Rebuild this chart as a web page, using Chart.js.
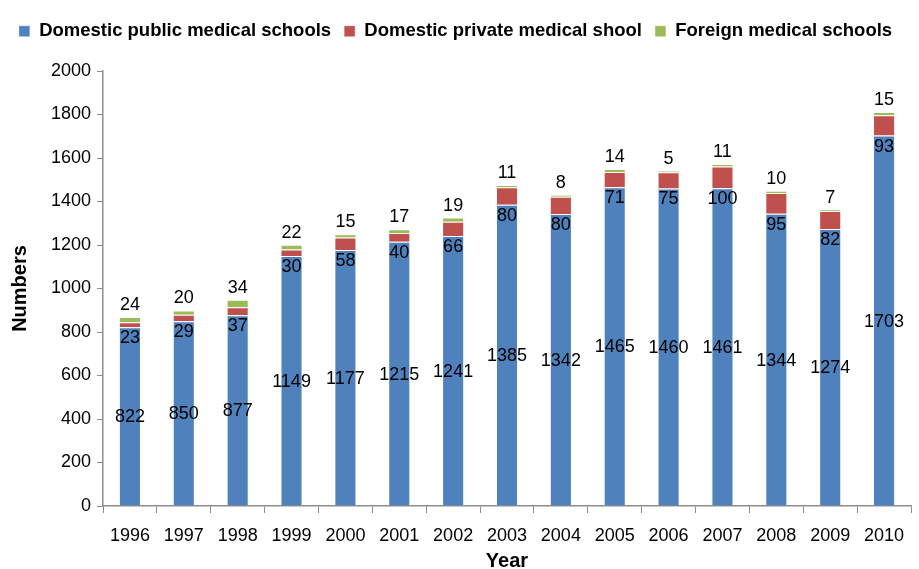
<!DOCTYPE html>
<html>
<head>
<meta charset="utf-8">
<script src="https://cdn.jsdelivr.net/npm/chart.js@4/dist/chart.umd.min.js"></script>
<style>
  body { margin: 0; background: #fff; }
  #wrap { width: 919px; height: 569px; }
</style>
</head>
<body>
<div id="wrap"><canvas id="chart" width="919" height="569"></canvas></div>
<script>
// Data
const years = ['1996', '1997', '1998', '1999', '2000', '2001', '2002', '2003', '2004', '2005', '2006', '2007', '2008', '2009', '2010'];
const publicSchools = [822, 850, 877, 1149, 1177, 1215, 1241, 1385, 1342, 1465, 1460, 1461, 1344, 1274, 1703];
const privateSchools = [23, 29, 37, 30, 58, 40, 66, 80, 80, 71, 75, 100, 95, 82, 93];
const foreignSchools = [24, 20, 34, 22, 15, 17, 19, 11, 8, 14, 5, 11, 10, 7, 15];

const FONT = "'Liberation Sans', Arial, Helvetica, sans-serif";
const axisGray = '#8c8c8c';

// draws the value labels like the original (no datalabels plugin available)
const valueLabels = {
    id: 'valueLabels',
    afterDatasetsDraw(chart) {
        const ctx = chart.ctx;
        const m0 = chart.getDatasetMeta(0);
        const m1 = chart.getDatasetMeta(1);
        const m2 = chart.getDatasetMeta(2);
        ctx.save();
        ctx.font = '18px ' + FONT;
        ctx.fillStyle = '#000';
        ctx.textAlign = 'center';
        m0.data.forEach((bar, i) => {
            // public: middle of blue segment
            ctx.textBaseline = 'middle';
            ctx.fillText(publicSchools[i], bar.x, (bar.y + bar.base) / 2 + 1);
            // private: just under the top of the blue segment
            ctx.textBaseline = 'top';
            ctx.fillText(privateSchools[i], bar.x, m1.data[i].base + 2);
            // foreign: above the stack
            ctx.textBaseline = 'bottom';
            ctx.fillText(foreignSchools[i], bar.x, m2.data[i].y - 3);
        });
        ctx.restore();
    }
};

// fixed legend height so the plot starts where it does in the figure
const legendHeight = {
    id: 'legendHeight',
    beforeInit(chart) {
        const fit = chart.legend.fit;
        chart.legend.fit = function () {
            fit.call(this);
            this.height = 62;
        };
    }
};

new Chart(document.getElementById('chart'), {
    type: 'bar',
    data: {
        labels: years,
        datasets: [
            {
                label: 'Domestic public medical schools',
                data: publicSchools,
                backgroundColor: '#4F81BD',
                borderColor: 'rgba(255,255,255,0.45)',
                borderWidth: 1,
                barPercentage: 0.41,
                categoryPercentage: 1
            },
            {
                label: 'Domestic private medical shool',
                data: privateSchools,
                backgroundColor: '#C0504D',
                borderColor: 'rgba(255,255,255,0.45)',
                borderWidth: 1,
                barPercentage: 0.41,
                categoryPercentage: 1
            },
            {
                label: 'Foreign medical schools',
                data: foreignSchools,
                backgroundColor: '#9BBB59',
                borderColor: 'rgba(255,255,255,0.45)',
                borderWidth: 1,
                barPercentage: 0.41,
                categoryPercentage: 1
            }
        ]
    },
    options: {
        responsive: false,
        animation: false,
        layout: { padding: { top: 9, right: 8, bottom: 0, left: 0 } },
        plugins: {
            tooltip: { enabled: false },
            legend: {
                position: 'top',
                labels: {
                    boxWidth: 11,
                    boxHeight: 11,
                    padding: 13,
                    color: '#000',
                    font: { family: FONT, size: 18.5, weight: 'bold' }
                }
            }
        },
        scales: {
            x: {
                stacked: true,
                afterFit(scale) { scale.height = 63; },
                grid: {
                    offset: true,
                    drawOnChartArea: false,
                    drawTicks: true,
                    tickLength: 7,
                    color: axisGray
                },
                border: { color: axisGray, width: 1.5 },
                ticks: {
                    color: '#000',
                    padding: 12,
                    font: { family: FONT, size: 18 }
                },
                title: {
                    display: true,
                    text: 'Year',
                    color: '#000',
                    padding: { top: 0, bottom: -4 },
                    font: { family: FONT, size: 20, weight: 'bold' }
                }
            },
            y: {
                stacked: true,
                min: 0,
                max: 2000,
                afterFit(scale) { scale.width = 103; },
                grid: {
                    drawOnChartArea: false,
                    drawTicks: true,
                    tickLength: 6,
                    color: axisGray
                },
                border: { color: axisGray, width: 1.5 },
                ticks: {
                    stepSize: 200,
                    color: '#000',
                    padding: 6,
                    font: { family: FONT, size: 18 },
                    callback: (v) => String(v)
                },
                title: {
                    display: true,
                    text: 'Numbers',
                    color: '#000',
                    padding: { top: 8, bottom: 0 },
                    font: { family: FONT, size: 20, weight: 'bold' }
                }
            }
        }
    },
    plugins: [valueLabels, legendHeight]
});
</script>
</body>
</html>
